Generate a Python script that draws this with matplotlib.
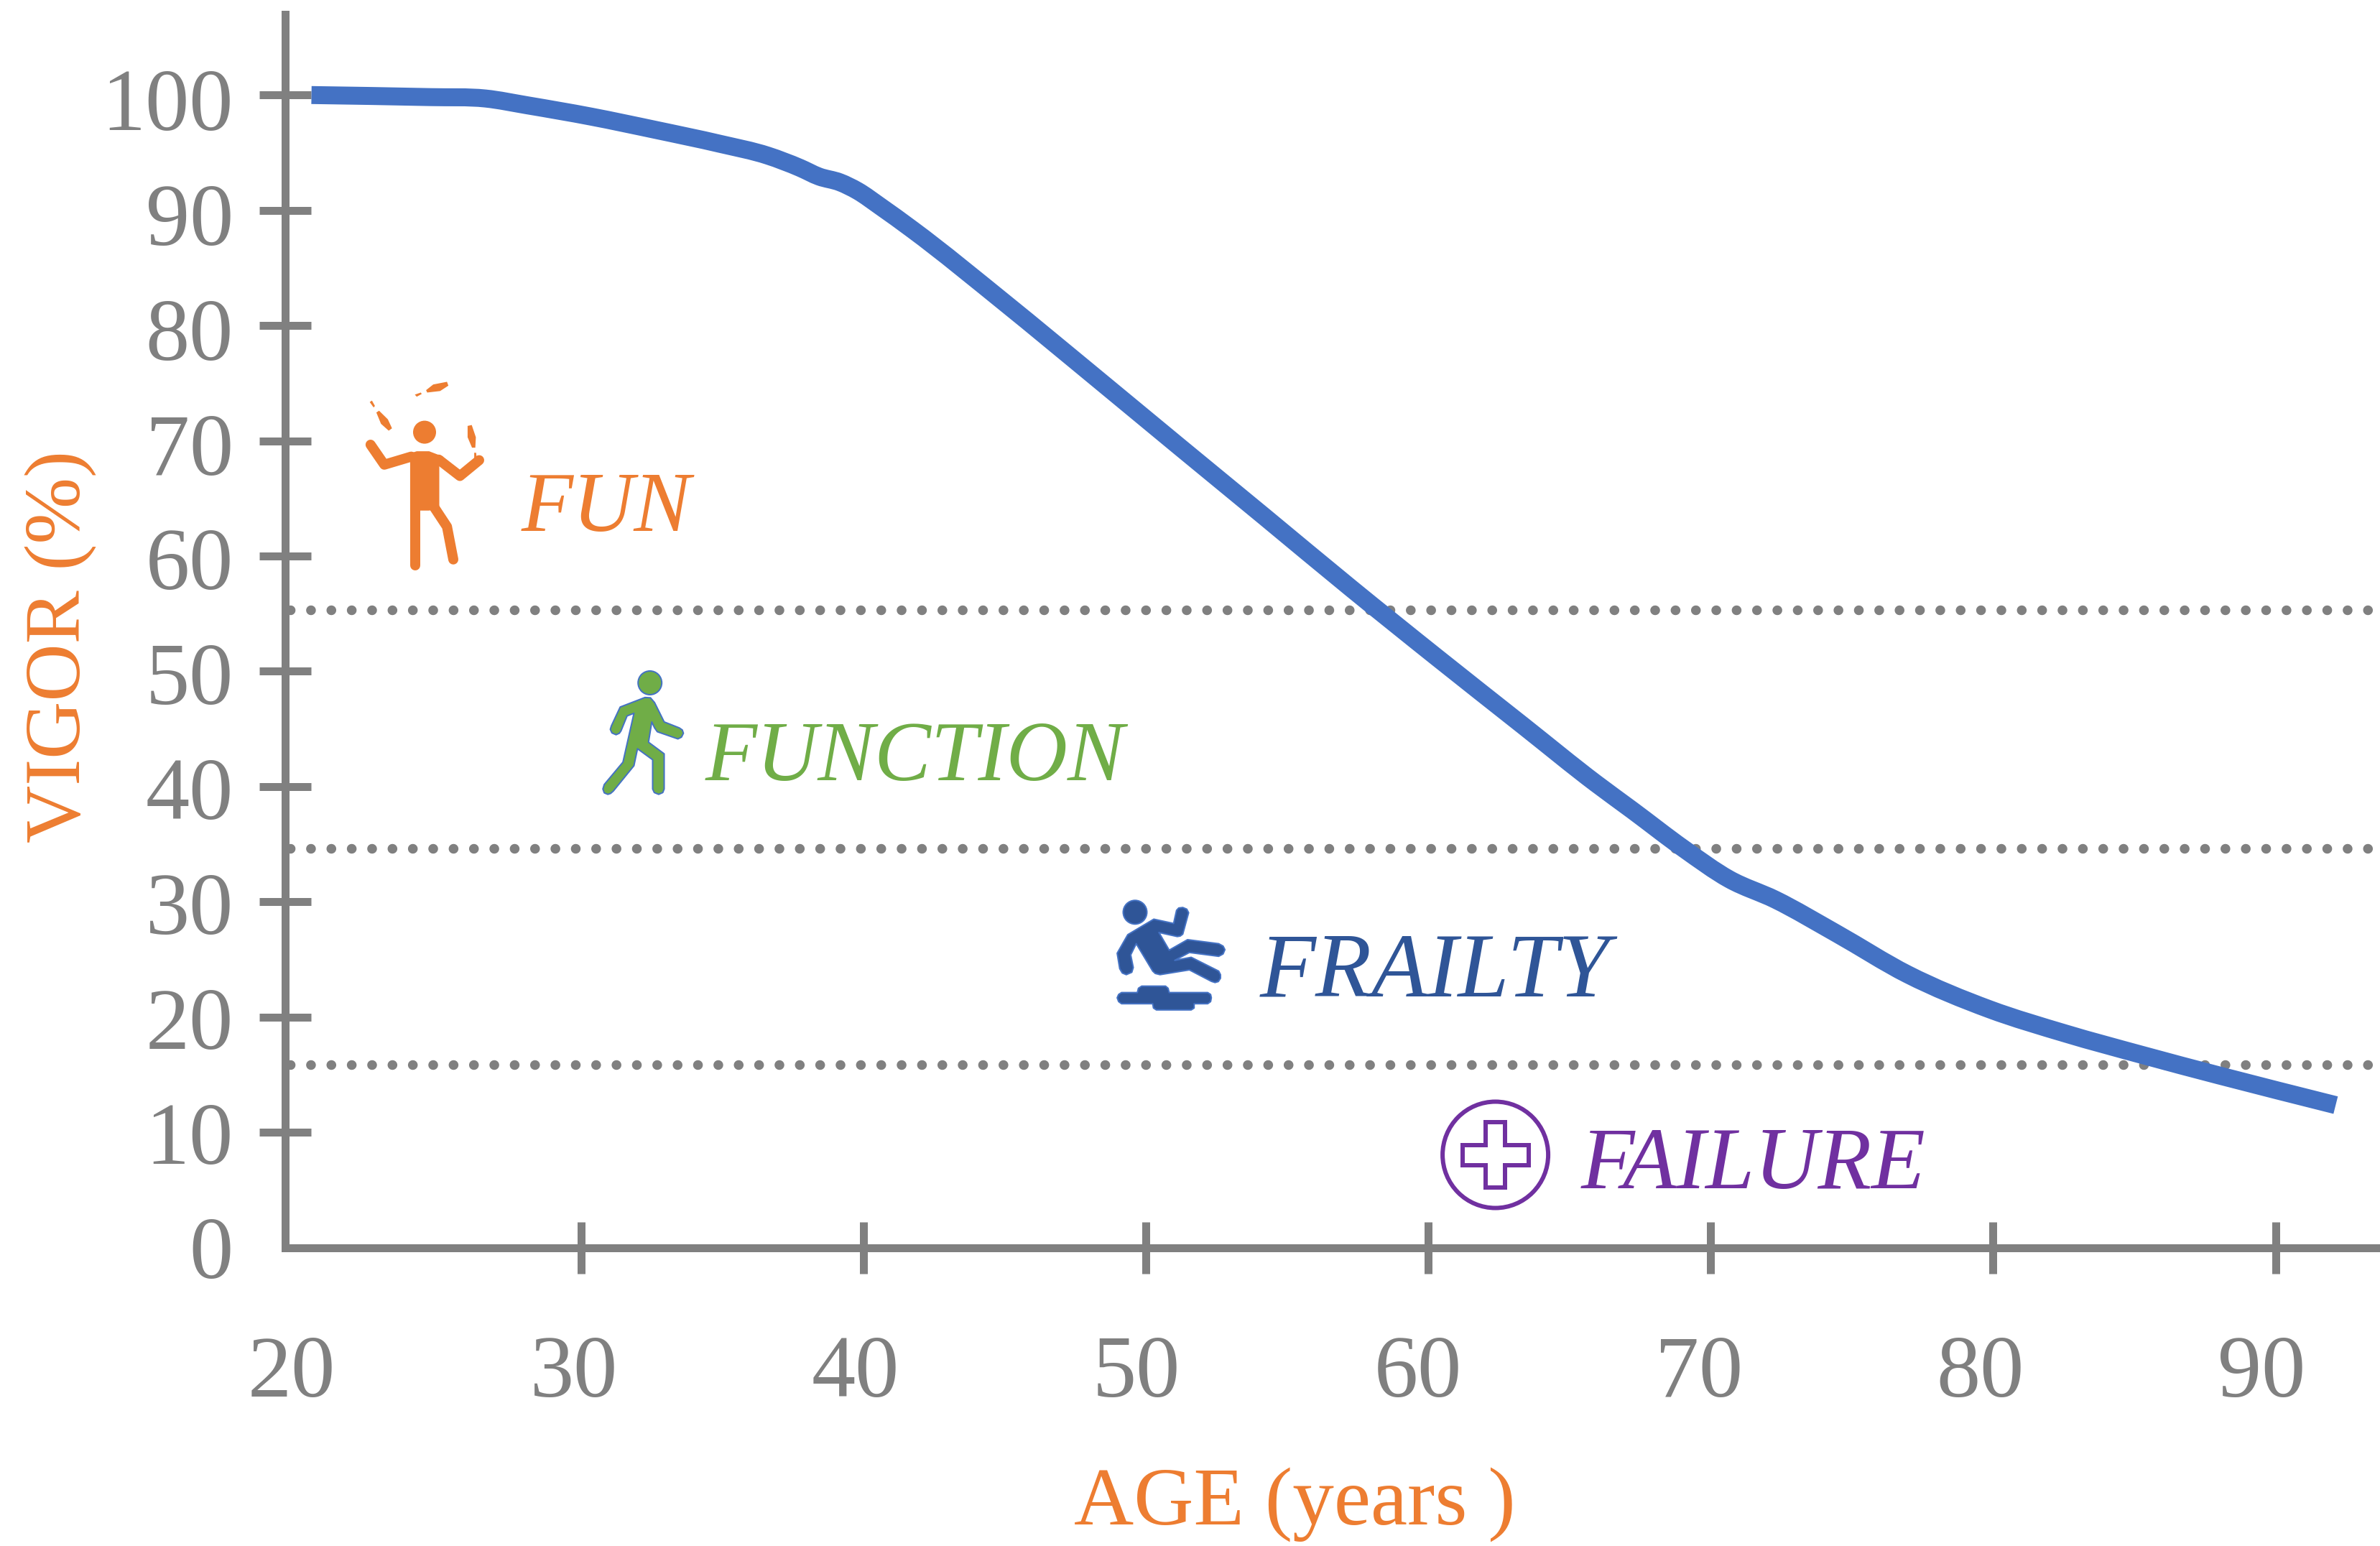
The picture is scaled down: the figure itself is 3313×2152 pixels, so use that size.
import numpy as np
import matplotlib
matplotlib.use("Agg")
import matplotlib.pyplot as plt
from matplotlib.patches import Polygon, Ellipse, PathPatch
from matplotlib.path import Path
from matplotlib.transforms import ScaledTranslation

age = [20.46, 24.69, 26.62, 28.10, 30.36, 32.64, 34.92, 36.62, 37.76, 38.43, 39.17, 39.80,
       40.60, 41.73, 45.05, 48.10, 51.16, 54.21, 57.26, 60.31, 63.37, 65.93, 67.23, 69.04,
       70.66, 72.29, 74.46, 76.98, 79.87, 82.58, 85.30, 88.01, 92.13]
vigor = [100.0, 99.82, 99.70, 99.11, 98.13, 96.98, 95.77, 94.74, 93.68, 92.93, 92.43, 91.68,
         90.34, 88.34, 81.89, 75.75, 69.55, 63.4, 57.22, 51.2, 45.26, 40.29, 37.94, 34.62,
         31.96, 30.19, 27.25, 23.7, 20.68, 18.56, 16.70, 14.93, 12.36]
thresholds = [55.3, 34.65, 15.9]
x_ticks = [20, 30, 40, 50, 60, 70, 80, 90]
y_ticks = [0, 10, 20, 30, 40, 50, 60, 70, 80, 90, 100]
zones = ["FUN", "FUNCTION", "FRAILTY", "FAILURE"]

GRAY = "#808080"
BLUE = "#4472C4"
ORANGE = "#ED7D31"
GREEN = "#70AD47"
NAVY = "#2F5597"
PURPLE = "#7030A0"
W, H = 3313, 2152
PX = 0.72  # points per pixel at dpi 100

plt.rcParams["font.family"] = ["Liberation Serif", "DejaVu Serif"]


def smooth_path(xs, ys):
    # smoothed line through the read points, like the spreadsheet's smooth line
    xs = np.array(xs)
    ys = np.array(ys)
    m = np.gradient(ys, xs)
    verts = [(xs[0], ys[0])]
    codes = [Path.MOVETO]
    for i in range(len(xs) - 1):
        d = (xs[i + 1] - xs[i]) / 3
        verts += [(xs[i] + d, ys[i] + m[i] * d), (xs[i + 1] - d, ys[i + 1] - m[i + 1] * d), (xs[i + 1], ys[i + 1])]
        codes += [Path.CURVE4] * 3
    return Path(verts, codes)


fig = plt.figure(figsize=(W / 100, H / 100), dpi=100)
ax = fig.add_axes([397 / W, (H - 1736.6) / H, (W - 397) / W, (1736.6 - 20) / H])
ax.set_xlim(19.53, 93.7)
ax.set_ylim(0, 107)

for s in ["top", "right"]:
    ax.spines[s].set_visible(False)
for s in ["left", "bottom"]:
    ax.spines[s].set_color(GRAY)
    ax.spines[s].set_linewidth(11 * PX)

for y in thresholds:
    ax.plot([19.72, 93.7], [y, y], color=GRAY, lw=13.5 * PX, linestyle=(0, (0.01, 2.09)),
            dash_capstyle="round", clip_on=False, zorder=1)
ax.add_patch(PathPatch(smooth_path(age, vigor), facecolor="none", edgecolor=BLUE, lw=25 * PX,
                       capstyle="butt", joinstyle="round", zorder=3))

ax.set_xticks(x_ticks)
ax.set_yticks(y_ticks)
ax.tick_params(axis="both", direction="inout", length=72 * PX, width=11 * PX, color=GRAY,
               labelcolor=GRAY, labelsize=88)
ax.tick_params(axis="x", pad=62)
ax.tick_params(axis="y", pad=26)
ax.xaxis.get_ticklines()[0].set_visible(False)
ax.xaxis.get_ticklines()[1].set_visible(False)
ax.yaxis.get_ticklines()[0].set_visible(False)
ax.yaxis.get_ticklines()[1].set_visible(False)
for t, lbl in zip(x_ticks, ax.get_xticklabels()):
    off = -10 - max(t - 30, 0) * 0.15
    lbl.set_transform(lbl.get_transform() + ScaledTranslation(off / 100, 0, fig.dpi_scale_trans))
for t, lbl in zip(y_ticks, ax.get_yticklabels()):
    lbl.set_transform(lbl.get_transform() + ScaledTranslation(0, -t * 0.06 / 100, fig.dpi_scale_trans))

# zone labels
ax.text(27.88, 64.0, zones[0], color=ORANGE, fontsize=85, style="italic", va="center", zorder=4)
ax.text(34.4, 42.35, zones[1], color=GREEN, fontsize=85, style="italic", va="center", zorder=4)
ax.text(54.05, 23.75, zones[2], color=NAVY, fontsize=92, style="italic", va="center", zorder=4)
ax.text(65.4, 7.0, zones[3], color=PURPLE, fontsize=88, style="italic", va="center", zorder=4)

fig.text(853 * 2.113 / W, 1 - 991 * 2.113 / H, "AGE (years )", color=ORANGE, fontsize=83,
         ha="center", va="center")
fig.text(40 * 2.113 / W, 1 - 426 * 2.113 / H, "VIGOR (%)", color=ORANGE, fontsize=80,
         rotation=90, ha="center", va="center")

# overlay in image pixels for the pictograms
ov = fig.add_axes([0, 0, 1, 1], facecolor="none")
ov.set_xlim(0, W)
ov.set_ylim(H, 0)
ov.axis("off")


def z1(pts):
    p = np.array(pts, dtype=float)
    return np.column_stack([450 + p[:, 0] / 2.613, 480 + p[:, 1] / 2.41])


def z2(pts):
    p = np.array(pts, dtype=float)
    return np.column_stack([1500 + p[:, 0] / 1.96, 1202.5 + p[:, 1] / 3.015])


# juggler
ov.add_patch(Ellipse((591, 601.6), 32, 32, color=ORANGE, lw=0))
ov.add_patch(Polygon(z1([(316, 364), (340, 357), (385, 357), (436, 375), (422, 408), (422, 550), (384, 556), (316, 556)]),
                     color=ORANGE, lw=0))
for stroke in ([(172, 335), (222, 402), (320, 375)], [(420, 385), (497, 440), (567, 387)],
               [(334, 740), (334, 400)], [(400, 540), (450, 610), (473, 720)]):
    p = z1(stroke)
    ov.plot(p[:, 0], p[:, 1], color=ORANGE, lw=14 * PX, solid_capstyle="round", solid_joinstyle="round")
for pin in ([(374, 152), (400, 133), (450, 124), (455, 137), (425, 155), (378, 160)],
            [(333, 167), (355, 160), (358, 165), (340, 174)],
            [(193, 227), (203, 221), (235, 250), (250, 280), (238, 288), (210, 265)],
            [(169, 192), (177, 187), (188, 205), (183, 210)],
            [(525, 272), (540, 269), (555, 310), (553, 345), (541, 345), (525, 310)],
            [(549, 362), (556, 362), (558, 380), (549, 380)]):
    ov.add_patch(Polygon(z1(pin), color=ORANGE, lw=0))

# walker
ov.add_patch(Ellipse((904.7, 950.5), 33, 33, facecolor=GREEN, edgecolor=BLUE, lw=2 * PX))
ov.add_patch(Polygon(z1([(1080, 1215), (1170, 1183), (1190, 1184), (1205, 1200), (1240, 1265), (1295, 1285),
                         (1306, 1292), (1310, 1303), (1303, 1316), (1290, 1322), (1215, 1298), (1205, 1285),
                         (1195, 1265), (1183, 1333), (1240, 1372), (1240, 1490), (1235, 1502), (1220, 1508),
                         (1204, 1502), (1198, 1490), (1198, 1392), (1143, 1355), (1130, 1412), (1055, 1497),
                         (1045, 1505), (1035, 1508), (1022, 1503), (1017, 1490), (1022, 1475), (1090, 1400),
                         (1130, 1236), (1105, 1245), (1083, 1295), (1077, 1303), (1065, 1308), (1050, 1302),
                         (1044, 1290), (1048, 1278)]),
                     facecolor=GREEN, edgecolor=BLUE, lw=2 * PX, joinstyle="round"))

# falling figure
ov.add_patch(Ellipse((1580, 1269.8), 33, 33, facecolor=NAVY, edgecolor=BLUE, lw=2 * PX))
ov.add_patch(Polygon(z2([(137, 297), (208, 232), (262, 250), (270, 195), (276, 185), (287, 183), (298, 190),
                         (303, 205), (287, 295), (280, 303), (272, 305), (222, 288), (250, 362), (300, 318),
                         (385, 335), (397, 345), (402, 360), (397, 378), (385, 388), (305, 372), (265, 405),
                         (310, 392), (385, 450), (390, 465), (390, 480), (384, 494), (375, 498), (365, 493),
                         (305, 445), (225, 465), (212, 460), (205, 450), (160, 335), (145, 382), (152, 435),
                         (148, 455), (133, 465), (122, 458), (115, 440), (108, 375)]),
                     facecolor=NAVY, edgecolor=BLUE, lw=2 * PX, joinstyle="round"))
ov.add_patch(Polygon(z2([(108, 562), (112, 548), (120, 540), (163, 540), (166, 522), (175, 513), (240, 513),
                         (247, 522), (250, 540), (355, 540), (363, 548), (365, 562), (363, 578), (355, 587),
                         (318, 587), (318, 605), (310, 613), (215, 613), (207, 605), (205, 587), (120, 587),
                         (112, 578)]),
                     facecolor=NAVY, edgecolor=BLUE, lw=2 * PX, joinstyle="round"))

# medical cross
ov.add_patch(Ellipse((2081.6, 1607.5), 147, 148, facecolor="none", edgecolor=PURPLE, lw=6 * PX))
ov.add_patch(Polygon(z2([(1113, 1084), (1167, 1084), (1167, 1179), (1231, 1179), (1231, 1264), (1167, 1264),
                         (1167, 1358), (1113, 1358), (1113, 1264), (1051, 1264), (1051, 1179), (1113, 1179)]),
                     facecolor="none", edgecolor=PURPLE, lw=6 * PX))

fig.savefig("out.png", dpi=100, facecolor="white")
